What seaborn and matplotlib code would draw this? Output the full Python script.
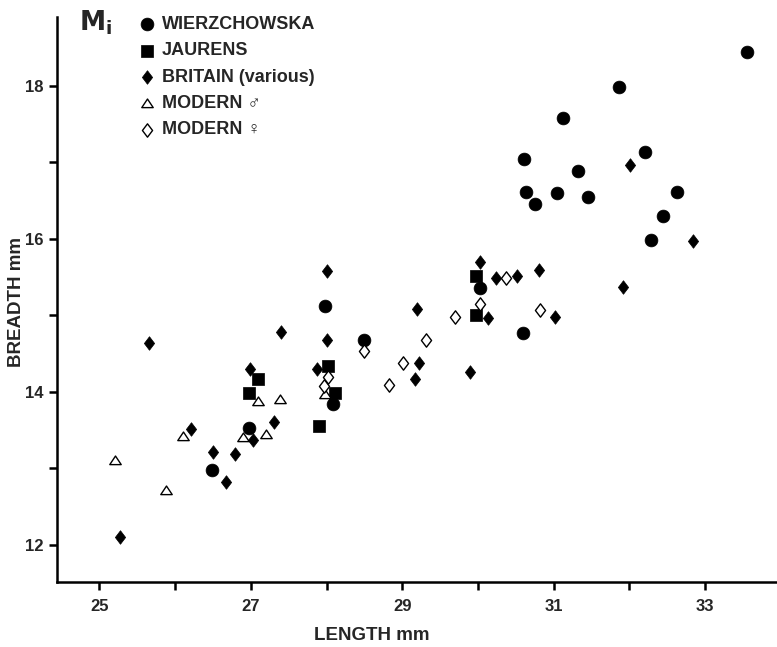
import numpy as np
import pandas as pd
import matplotlib
matplotlib.use("Agg")
import matplotlib.pyplot as plt
from matplotlib.path import Path
from matplotlib.ticker import MultipleLocator
import seaborn as sns

# length / breadth (mm)
wierz_len = [26.49, 26.97, 27.98, 28.08, 28.49, 30.03, 30.59, 30.61, 30.63, 30.75,
             31.05, 31.13, 31.32, 31.46, 31.86, 32.21, 32.28, 32.44, 32.63, 33.56]
wierz_br = [12.98, 13.53, 15.12, 13.84, 14.67, 15.36, 14.77, 17.04, 16.61, 16.45,
            16.60, 17.58, 16.89, 16.55, 17.99, 17.14, 15.98, 16.30, 16.61, 18.44]

jaur_len = [26.98, 27.09, 27.90, 28.02, 28.11, 29.97, 29.98]
jaur_br = [13.98, 14.17, 13.55, 14.33, 13.98, 15.00, 15.51]

brit_len = [25.27, 25.66, 26.21, 26.50, 26.67, 26.79, 26.99, 27.03, 27.30, 27.40,
            27.88, 28.00, 28.00, 29.17, 29.20, 29.22, 29.89, 30.03, 30.13, 30.24,
            30.51, 30.81, 31.02, 31.91, 32.01, 32.84]
brit_br = [12.10, 14.64, 13.51, 13.21, 12.82, 13.19, 14.29, 13.37, 13.60, 14.78,
           14.30, 15.58, 14.68, 14.16, 15.08, 14.37, 14.26, 15.69, 14.96, 15.49,
           15.51, 15.59, 14.97, 15.37, 16.97, 15.97]

male_len = [25.21, 25.88, 26.10, 26.90, 27.09, 27.20, 27.39, 27.98]
male_br = [13.11, 12.71, 13.42, 13.41, 13.88, 13.44, 13.91, 13.97]

fem_len = [27.97, 28.02, 28.50, 28.83, 29.01, 29.32, 29.70, 30.03, 30.37, 30.82]
fem_br = [14.07, 14.19, 14.53, 14.09, 14.37, 14.68, 14.97, 15.15, 15.48, 15.07]

labels = ["WIERZCHOWSKA", "JAURENS", "BRITAIN (various)", "MODERN \u2642", "MODERN \u2640"]

xticks = [25, 27, 29, 31, 33]
yticks = [12, 14, 16, 18]

frames = []
for lab, xs, ys in zip(labels,
                       [wierz_len, jaur_len, brit_len, male_len, fem_len],
                       [wierz_br, jaur_br, brit_br, male_br, fem_br]):
    frames.append(pd.DataFrame({"length": xs, "breadth": ys, "group": lab}))
df = pd.concat(frames, ignore_index=True)

diamond = Path([(0, 1), (0.76, 0), (0, -1), (-0.76, 0), (0, 1)],
               [Path.MOVETO, Path.LINETO, Path.LINETO, Path.LINETO, Path.CLOSEPOLY])
triangle = Path([(-1, -0.72), (1, -0.72), (0, 0.78), (-1, -0.72)],
                [Path.MOVETO, Path.LINETO, Path.LINETO, Path.CLOSEPOLY])

styles = {
    labels[0]: dict(marker="o", s=85, facecolor="black", edgecolor="black", linewidth=0.5),
    labels[1]: dict(marker="s", s=72, facecolor="black", edgecolor="black", linewidth=0.5),
    labels[2]: dict(marker=diamond, s=95, facecolor="black", edgecolor="black", linewidth=0.5),
    labels[3]: dict(marker=triangle, s=68, facecolor="white", edgecolor="black", linewidth=1.0),
    labels[4]: dict(marker=diamond, s=92, facecolor="white", edgecolor="black", linewidth=1.0),
}

sns.set_style("ticks")
plt.rcParams["font.family"] = ["Liberation Sans", "DejaVu Sans"]
plt.rcParams["font.weight"] = "bold"

fig = plt.figure(figsize=(7.77, 6.47), dpi=100)
ax = fig.add_axes([57 / 777, 65 / 647, 720 / 777, 565 / 647])

for lab in labels:
    sub = df[df["group"] == lab]
    sns.scatterplot(data=sub, x="length", y="breadth", ax=ax, label=lab, zorder=3,
                    **styles[lab])

ax.set_xlim(24.44, 33.95)
ax.set_ylim(11.51, 18.9)
ax.set_xticks(xticks)
ax.set_xticklabels([str(v) for v in xticks])
ax.set_yticks(yticks)
ax.set_yticklabels([str(v) for v in yticks])
ax.xaxis.set_minor_locator(MultipleLocator(1))
ax.yaxis.set_minor_locator(MultipleLocator(1))
ax.tick_params(which="both", direction="out", length=6, width=1.8, color="black")
ax.tick_params(axis="x", which="major", labelsize=12, pad=6)
ax.tick_params(axis="y", which="major", labelsize=12, pad=4)
for t in ax.get_xticklabels() + ax.get_yticklabels():
    t.set_fontweight("bold")

sns.despine(ax=ax)
for side in ["left", "bottom"]:
    ax.spines[side].set_linewidth(1.8)
    ax.spines[side].set_color("black")

ax.set_xlabel("LENGTH mm", fontsize=13.5, fontweight="bold")
ax.set_ylabel("BREADTH mm", fontsize=13.5, fontweight="bold")
ax.xaxis.set_label_coords(0.4375, -0.095)
ax.yaxis.set_label_coords(-0.056, 0.496)
ax.xaxis.label.set_va("center")
ax.yaxis.label.set_va("center")

ax.text(0.03, 0.99, r"$\mathbf{M}_{\mathrm{i}}$", transform=ax.transAxes,
        fontsize=19, va="center", ha="left")

leg = ax.legend(loc="upper left", bbox_to_anchor=(0.112, 1.002), frameon=False,
                prop={"family": ["Liberation Sans", "DejaVu Sans"], "weight": "bold", "size": 13},
                handletextpad=0.35, handlelength=1.0, labelspacing=0.52,
                borderaxespad=0, borderpad=0, markerscale=1.0)

fig.savefig("out.png", dpi=100)
